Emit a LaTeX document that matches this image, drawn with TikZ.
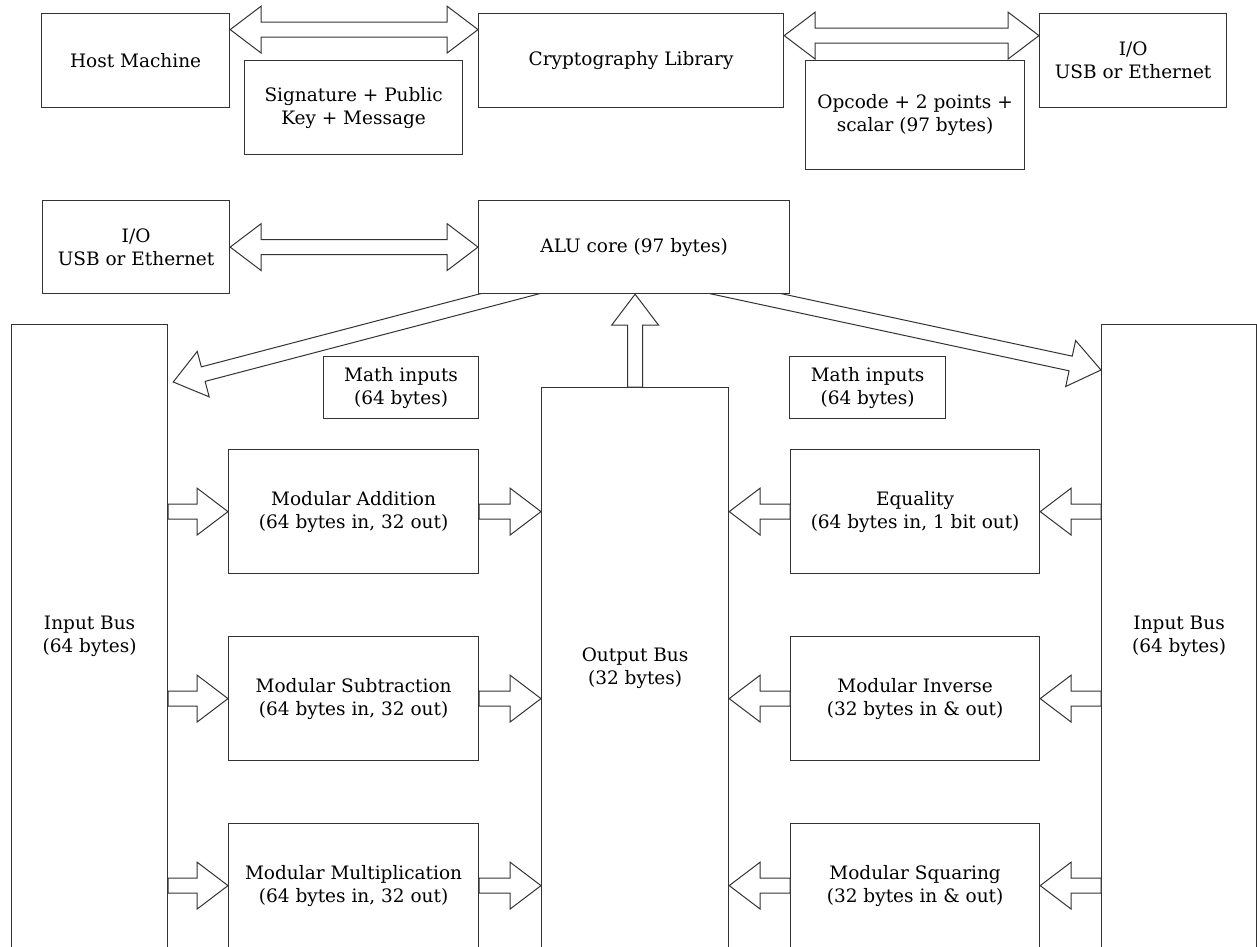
\documentclass[tikz,border=0pt]{standalone}
\usepackage{fontspec}
\setmainfont{DejaVu Serif}
\usetikzlibrary{calc}
\tikzset{
  box/.style={draw=black!80, line width=1.2pt, fill=white, inner sep=0pt, align=center,
    anchor=north west, font=\fontsize{18.5}{23}\selectfont},
  fat/.style={draw=black!80, line width=1pt, fill=white, line join=miter},
}
% single fat arrow from #1 (tail) to #2 (tip)
\newcommand\fatarrow[2]{%
  \draw[fat] let \p1=(#1), \p2=(#2), \n1={atan2(\y2-\y1,\x2-\x1)}, \n2={veclen(\x2-\x1,\y2-\y1)} in
    [shift={(\p1)}, rotate=\n1]
    (0,-7.5) -- ({\n2-31},-7.5) -- ({\n2-31},-23.5) -- (\n2,0) -- ({\n2-31},23.5) -- ({\n2-31},7.5) -- (0,7.5) -- cycle;}
% double fat arrow between #1 and #2
\newcommand\dfatarrow[2]{%
  \draw[fat] let \p1=(#1), \p2=(#2), \n1={atan2(\y2-\y1,\x2-\x1)}, \n2={veclen(\x2-\x1,\y2-\y1)} in
    [shift={(\p1)}, rotate=\n1]
    (0,0) -- (31,-23.5) -- (31,-7.5) -- ({\n2-31},-7.5) -- ({\n2-31},-23.5) -- (\n2,0)
    -- ({\n2-31},23.5) -- ({\n2-31},7.5) -- (31,7.5) -- (31,23.5) -- cycle;}
\begin{document}
\begin{tikzpicture}[x=1pt,y=-1pt]
\useasboundingbox (0,0) rectangle (1257,946);
\clip (0,0) rectangle (1257,946);
\fill[white] (0,0) rectangle (1257,946);

% top row
\node[box, minimum width=188pt, minimum height=94pt] (host) at (41,13) {Host Machine};
\node[box, minimum width=218pt, minimum height=94pt] (sig) at (244,60) {Signature + Public\\Key + Message};
\node[box, minimum width=305pt, minimum height=94pt] (crypto) at (478,13) {Cryptography Library};
\node[box, minimum width=219pt, minimum height=109pt] (opc) at (805,60) {Opcode + 2 points +\\scalar (97 bytes)};
\node[box, minimum width=187pt, minimum height=94pt] (io1) at (1039,13) {I/O\\USB or Ethernet};

% second row
\node[box, minimum width=187pt, minimum height=93pt] (io2) at (42,200) {I/O\\USB or Ethernet};
\node[box, minimum width=311pt, minimum height=93pt] (alu) at (478,200) {ALU core (97 bytes)};

% buses
\node[box, minimum width=156pt, minimum height=624pt] (inL) at (11,324) {Input Bus\\(64 bytes)};
\node[box, minimum width=187pt, minimum height=561pt] (outb) at (541,387) {Output Bus\\(32 bytes)};
\node[box, minimum width=155pt, minimum height=624pt] (inR) at (1101,324) {Input Bus\\(64 bytes)};

\node[box, minimum width=155pt, minimum height=62pt] (mathL) at (323,356) {Math inputs\\(64 bytes)};
\node[box, minimum width=156pt, minimum height=62pt] (mathR) at (789,356) {Math inputs\\(64 bytes)};

% operation units
\node[box, minimum width=250pt, minimum height=124pt] (add) at (228,449) {Modular Addition\\(64 bytes in, 32 out)};
\node[box, minimum width=250pt, minimum height=124pt] (sub) at (228,636) {Modular Subtraction\\(64 bytes in, 32 out)};
\node[box, minimum width=250pt, minimum height=124pt] (mul) at (228,823) {Modular Multiplication\\(64 bytes in, 32 out)};
\node[box, minimum width=249pt, minimum height=124pt] (eq) at (790,449) {Equality\\(64 bytes in, 1 bit out)};
\node[box, minimum width=249pt, minimum height=124pt] (inv) at (790,636) {Modular Inverse\\(32 bytes in \& out)};
\node[box, minimum width=249pt, minimum height=124pt] (sq) at (790,823) {Modular Squaring\\(32 bytes in \& out)};

% top double arrows
\coordinate (a1) at ([yshift=31pt]host.east);
\coordinate (a2) at ([yshift=31pt]crypto.west);
\dfatarrow{a1}{a2}
\coordinate (b1) at ([yshift=25pt]crypto.east);
\coordinate (b2) at ([yshift=25pt]io1.west);
\dfatarrow{b1}{b2}
\dfatarrow{io2.east}{alu.west}

% output bus to ALU
\coordinate (upt) at (alu.south -| outb.north);
\fatarrow{outb.north}{upt}

% diagonal arrows from ALU to the input buses
\coordinate (tipL) at ([xshift=5pt,yshift=-58pt]inL.north east);
\coordinate (edgeL) at ([xshift=30pt]alu.south west);
\coordinate (tailL) at ($(tipL)!1.15!(edgeL)$);
\coordinate (tipR) at ([yshift=-46pt]inR.north west);
\coordinate (edgeR) at ([xshift=-42pt]alu.south east);
\coordinate (tailR) at ($(tipR)!1.15!(edgeR)$);
\begin{scope}
  \clip ($(alu.south)+(-700,0)$) rectangle ($(alu.south)+(700,300)$);
  \fatarrow{tailL}{tipL}
  \fatarrow{tailR}{tipR}
\end{scope}

% left column arrows
\foreach \bx in {add,sub,mul}{
  \coordinate (t) at (inL.east |- \bx.west);
  \fatarrow{t}{\bx.west}
  \coordinate (h) at (\bx.east -| outb.west);
  \fatarrow{\bx.east}{h}
}
% right column arrows
\foreach \bx in {eq,inv,sq}{
  \coordinate (h) at (\bx.west -| outb.east);
  \fatarrow{\bx.west}{h}
  \coordinate (t) at (inR.west |- \bx.east);
  \fatarrow{t}{\bx.east}
}
\end{tikzpicture}
\end{document}
